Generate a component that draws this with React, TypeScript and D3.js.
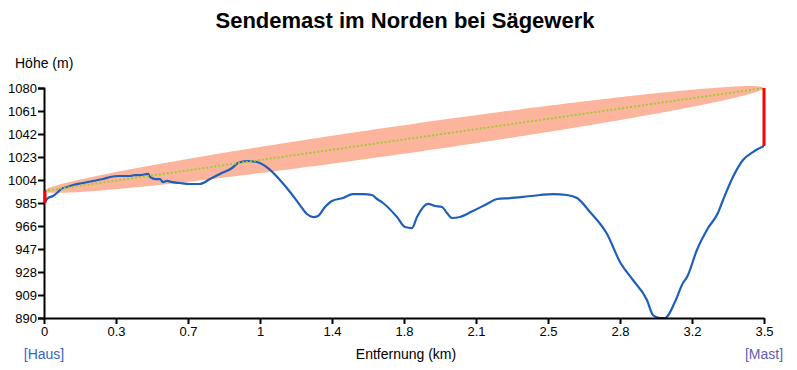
import * as d3 from 'd3'
import React, { useEffect, useRef } from 'react'

// terrain profile between house and mast
const distanceKm = [0, 0.019, 0.044, 0.068, 0.083, 0.112, 0.141, 0.19, 0.238, 0.287, 0.321, 0.369, 0.418, 0.442, 0.467, 0.506, 0.515, 0.54, 0.564, 0.578, 0.598, 0.622, 0.661, 0.71, 0.758, 0.807, 0.855, 0.914, 0.943, 0.987, 1.035, 1.074, 1.099, 1.147, 1.196, 1.244, 1.278, 1.308, 1.332, 1.366, 1.4, 1.453, 1.502, 1.551, 1.594, 1.619, 1.648, 1.716, 1.755, 1.789, 1.813, 1.867, 1.901, 1.935, 1.959, 1.983, 2.022, 2.085, 2.153, 2.202, 2.265, 2.328, 2.411, 2.474, 2.542, 2.591, 2.654, 2.737, 2.8, 2.863, 2.931, 2.96, 2.994, 3.018, 3.067, 3.106, 3.126, 3.174, 3.228, 3.276, 3.301, 3.349, 3.398, 3.446, 3.5]
const elevationM = [985.0, 989.1, 990.8, 994.1, 996.6, 998.2, 999.9, 1001.5, 1003.2, 1004.8, 1006.5, 1007.3, 1007.3, 1008.1, 1008.1, 1009.0, 1006.5, 1004.8, 1004.8, 1002.3, 1003.2, 1002.3, 1001.5, 1000.7, 1000.7, 1004.8, 1009.0, 1013.9, 1018.0, 1019.7, 1018.9, 1015.6, 1012.3, 1004.0, 994.1, 983.3, 975.9, 973.4, 974.3, 981.7, 986.7, 989.1, 992.4, 992.4, 991.6, 988.3, 985.0, 973.4, 965.2, 964.3, 973.4, 984.2, 982.5, 981.7, 976.7, 972.6, 973.4, 978.4, 984.2, 988.3, 989.1, 990.0, 991.6, 992.4, 991.6, 989.1, 977.6, 959.4, 936.3, 921.4, 904.9, 892.5, 890, 890, 903.2, 918.9, 923.9, 946.2, 964.3, 976.7, 987.5, 1006.5, 1020.5, 1027.1, 1032.1]

// antenna tops (m) at both ends, fresnel radius at mid path (m)
const antennaTopM = [995, 1080]
const fresnelMaxM = 11.8

const xTickLabels = ['0', '0.3', '0.7', '1', '1.4', '1.8', '2.1', '2.5', '2.8', '3.2', '3.5']
const yTickLabels = ['890', '909', '928', '947', '966', '985', '1004', '1023', '1042', '1061', '1080']
const endLabels = ['[Haus]', '[Mast]']

const width = 797
const height = 370
const margin = { top: 88, right: 33, bottom: 52, left: 44 }
const font = 'Arial, "Liberation Sans", sans-serif'

function ProfileChart () {
  const node = useRef<SVGSVGElement>(null)

  useEffect(() => {
    const svg = d3.select(node.current)
    svg.selectAll('*').remove()

    const maxKm = distanceKm[distanceKm.length - 1]
    const x = d3.scaleLinear().domain([0, maxKm]).range([margin.left, width - margin.right])
    const y = d3.scaleLinear().domain([+yTickLabels[0], +yTickLabels[yTickLabels.length - 1]])
      .range([height - margin.bottom, margin.top])

    svg.append('defs').append('clipPath').attr('id', 'plotClip')
      .append('rect')
      .attr('x', margin.left).attr('y', margin.top)
      .attr('width', width - margin.left - margin.right)
      .attr('height', height - margin.top - margin.bottom)

    // fresnel zone around the line of sight
    const losAt = (km: number) => antennaTopM[0] + (antennaTopM[1] - antennaTopM[0]) * km / maxKm
    const steps = d3.range(0, 201).map(i => maxKm * i / 200)
    const radius = (km: number) => fresnelMaxM * 2 * Math.sqrt(Math.max(0, (km / maxKm) * (1 - km / maxKm)))
    const zone = d3.area<number>()
      .x(d => x(d))
      .y0(d => y(losAt(d) - radius(d)))
      .y1(d => y(losAt(d) + radius(d)))
    svg.append('path').datum(steps)
      .attr('d', zone)
      .attr('fill', '#fcb59c')

    // terrain
    const points = distanceKm.map((d, i) => [d, elevationM[i]] as [number, number])
    const line = d3.line<[number, number]>()
      .x(d => x(d[0]))
      .y(d => y(d[1]))
      .curve(d3.curveMonotoneX)
    svg.append('path').datum(points)
      .attr('clip-path', 'url(#plotClip)')
      .attr('d', line)
      .attr('fill', 'none')
      .attr('stroke', '#1d5fbb')
      .attr('stroke-width', 2.2)

    // line of sight
    svg.append('line')
      .attr('x1', x(0)).attr('y1', y(antennaTopM[0]))
      .attr('x2', x(maxKm)).attr('y2', y(antennaTopM[1]))
      .attr('stroke', '#9ccc30')
      .attr('stroke-width', 2)
      .attr('stroke-dasharray', '2,2')

    // axes
    const xAxis = d3.axisBottom(x)
      .tickValues(xTickLabels.map((t, i) => maxKm * i / (xTickLabels.length - 1)))
      .tickFormat((d, i) => xTickLabels[i])
      .tickSizeInner(6).tickSizeOuter(0)
    const gx = svg.append('g')
      .attr('transform', `translate(0,${height - margin.bottom})`)
      .call(xAxis)
    const yAxis = d3.axisLeft(y)
      .tickValues(yTickLabels.map(Number))
      .tickFormat((d, i) => yTickLabels[i])
      .tickSizeInner(6).tickSizeOuter(6)
    const gy = svg.append('g')
      .attr('transform', `translate(${margin.left},0)`)
      .call(yAxis)
    ;[gx, gy].forEach(g => {
      g.selectAll('path, line').attr('stroke', '#000').attr('stroke-width', 2)
      g.selectAll('text').attr('font-size', 13).attr('font-family', font).attr('fill', '#000')
    })
    gy.selectAll('.tick text').attr('x', -7)
    gx.selectAll('.tick text').attr('y', 9)

    // antennas, drawn over the axis
    svg.append('line')
      .attr('x1', x(0) + 1).attr('x2', x(0) + 1)
      .attr('y1', y(elevationM[0])).attr('y2', y(antennaTopM[0]))
      .attr('stroke', '#ff0000').attr('stroke-width', 3)
    svg.append('line')
      .attr('x1', x(maxKm)).attr('x2', x(maxKm))
      .attr('y1', y(elevationM[elevationM.length - 1])).attr('y2', y(antennaTopM[1]))
      .attr('stroke', '#ff0000').attr('stroke-width', 3)

    // titles
    svg.append('text')
      .attr('x', 405).attr('y', 28)
      .attr('text-anchor', 'middle')
      .attr('font-family', font).attr('font-size', 22).attr('font-weight', 'bold')
      .text('Sendemast im Norden bei Sägewerk')
    svg.append('text')
      .attr('x', 15).attr('y', 68)
      .attr('font-family', font).attr('font-size', 14)
      .text('Höhe (m)')
    svg.append('text')
      .attr('x', (margin.left + width - margin.right) / 2 + 2).attr('y', 359)
      .attr('text-anchor', 'middle')
      .attr('font-family', font).attr('font-size', 14)
      .text('Entfernung (km)')
    svg.append('text')
      .attr('x', x(0)).attr('y', 359)
      .attr('text-anchor', 'middle')
      .attr('font-family', font).attr('font-size', 14)
      .attr('fill', '#3366cc')
      .text(endLabels[0])
    svg.append('text')
      .attr('x', x(maxKm)).attr('y', 359)
      .attr('text-anchor', 'middle')
      .attr('font-family', font).attr('font-size', 14)
      .attr('fill', '#6060b0')
      .text(endLabels[1])
  }, [])

  return (
    <svg
      ref={node}
      width={width}
      height={height}
      style={{ position: 'absolute', left: 0, top: 0, background: '#fff' }}
    />
  )
}

export default function App () {
  return <ProfileChart />
}
